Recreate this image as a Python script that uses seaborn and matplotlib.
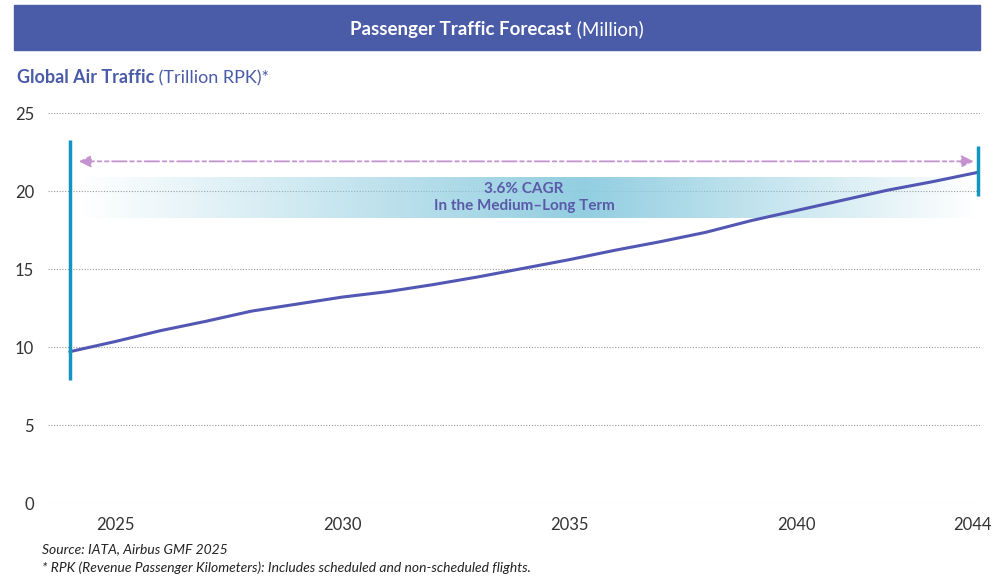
import numpy as np
import pandas as pd
import matplotlib.pyplot as plt
import matplotlib.transforms as mtransforms
import seaborn as sns
from matplotlib.colors import to_rgb

years = list(range(2024, 2045))
rpk = [9.7, 10.35, 11.05, 11.65, 12.3, 12.75, 13.2, 13.55, 14.0, 14.5, 15.05,
       15.6, 16.2, 16.75, 17.35, 18.1, 18.75, 19.4, 20.05, 20.6, 21.2]
xtick_years = [2025, 2030, 2035, 2040, 2044]
ytick_vals = [0, 5, 10, 15, 20, 25]

cagr_label = "3.6% CAGR\nIn the Medium\u2013Long Term"
title_bold = "Passenger Traffic Forecast"
title_rest = " (Million)"
sub_bold = "Global Air Traffic"
sub_rest = " (Trillion RPK)*"
source_lines = ["Source: IATA, Airbus GMF 2025",
                "* RPK (Revenue Passenger Kilometers): Includes scheduled and non-scheduled flights."]

BLUE = "#4a5ba8"
LINE = "#5257b3"
TEAL = "#1196c0"
PURPLE = "#c493cf"
BAND = "#8ccbdf"

sns.set_style("white")
plt.rcParams['font.family'] = ['Lato', 'DejaVu Sans']

df = pd.DataFrame({"year": years, "rpk": rpk})

fig = plt.figure(figsize=(9.94, 5.80), dpi=100)
ax = fig.add_axes([48 / 994, 1 - 503 / 580, 932 / 994, 390 / 580])

# header bar
fig.patches.append(plt.Rectangle((14 / 994, 1 - 50 / 580), 966 / 994, 45 / 580,
                                 transform=fig.transFigure, color=BLUE, zorder=0))
t1 = fig.text(0.5, 1 - 35 / 580, title_bold, color="white", fontsize=13.5,
              fontweight="bold", ha="left", va="baseline")
t2 = fig.text(0.5, 1 - 35 / 580, title_rest, color="white", fontsize=13.5,
              ha="left", va="baseline")
s1 = fig.text(17 / 994, 1 - 83 / 580, sub_bold, color=BLUE, fontsize=13,
              fontweight="bold", ha="left", va="baseline")
fig.canvas.draw()
b1 = t1.get_window_extent()
b2 = t2.get_window_extent()
left = (fig.bbox.width - (b1.width + b2.width)) / 2
t1.set_x(left / fig.bbox.width)
t2.set_x((left + b1.width) / fig.bbox.width)
sb = s1.get_window_extent()
fig.text(sb.x1 / fig.bbox.width, 1 - 83 / 580, sub_rest, color=BLUE,
         fontsize=13, ha="left", va="baseline")

ax.set_xlim(2023.52, 2044.04)
ax.set_ylim(0, 25)

for v in ytick_vals:
    ax.axhline(v, color="#9a9a9a", lw=0.8, ls=(0, (1, 1.5)), zorder=1)

# gradient band
nx = 400
xs = np.linspace(0, 1, nx)
peak = 0.56
alpha = np.where(xs < peak, xs / peak, (1 - xs) / (1 - peak)) * 0.95
rgba = np.zeros((1, nx, 4))
rgba[..., :3] = to_rgb(BAND)
rgba[..., 3] = alpha
ax.imshow(rgba, extent=(2024.2, 2044.0, 18.3, 20.9), aspect="auto",
          zorder=2, interpolation="bilinear")

sns.lineplot(data=df, x="year", y="rpk", ax=ax, color=LINE, lw=2.2, zorder=4)

ax.vlines(years[0], 7.9, 23.3, color=TEAL, lw=2.5, zorder=5, clip_on=False)
ax.vlines(years[-1], 19.7, 22.9, color=TEAL, lw=2.5, zorder=5, clip_on=False)

ax.annotate("", xy=(2024.2, 21.9), xytext=(2043.9, 21.9),
            arrowprops=dict(arrowstyle="<|-|>", color=PURPLE, lw=1.3,
                            ls=(0, (8, 2, 2, 2, 2, 2)), mutation_scale=18,
                            shrinkA=0, shrinkB=0), zorder=3)

ax.text(2034.0, 19.6, cagr_label, color="#5a5aa8", fontsize=11,
        fontweight="bold", ha="center", va="center", linespacing=1.25, zorder=6)

ax.set_xticks(xtick_years)
ax.set_xticklabels([str(y) for y in xtick_years])
ax.set_yticks(ytick_vals)
ax.tick_params(axis="both", length=0, labelsize=12, colors="#333333")
ax.tick_params(axis="y", pad=10)
ax.tick_params(axis="x", pad=10)
ax.set_xlabel("")
ax.set_ylabel("")
sns.despine(ax=ax, left=True, bottom=True)

# nudge the last year label inward so it stays inside the figure
last = ax.get_xticklabels()[-1]
last.set_transform(last.get_transform() +
                   mtransforms.ScaledTranslation(-6 / 100, 0, fig.dpi_scale_trans))

fig.text(42 / 994, 1 - 549 / 580, source_lines[0], fontsize=10, style="italic",
         color="#222222", ha="left", va="center")
fig.text(42 / 994, 1 - 568 / 580, source_lines[1], fontsize=10, style="italic",
         color="#222222", ha="left", va="center")

fig.savefig("out.png", dpi=100)
